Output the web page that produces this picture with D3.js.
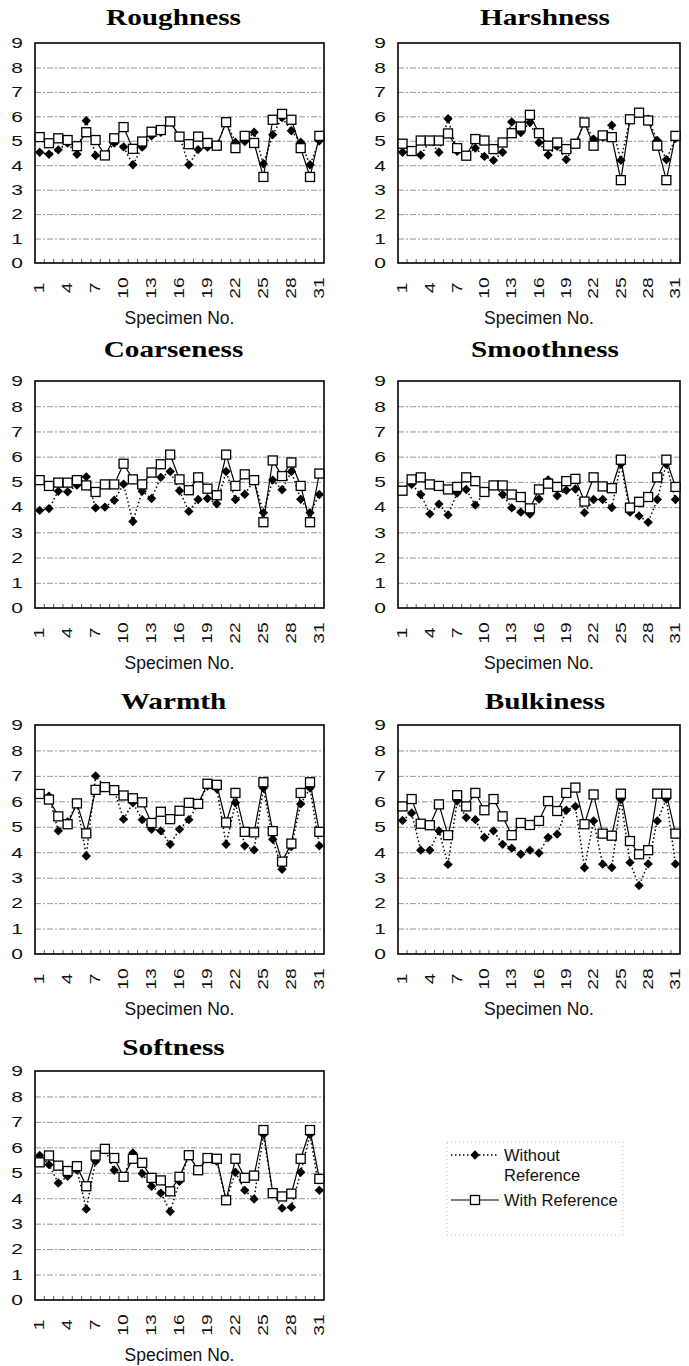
<!DOCTYPE html>
<html>
<head>
<meta charset="utf-8">
<script src="https://cdn.jsdelivr.net/npm/d3@7"></script>
<style>
  body { margin: 0; background: #fff; }
  svg { display: block; }
  .grid line { stroke: #8a8a8a; stroke-width: 0.9; stroke-dasharray: 6,2,2,2; }
  .grid path { display: none; }
  .title { font-family: "Liberation Serif", "Times New Roman", serif; font-weight: bold; }
  .lbl { font-family: "Liberation Sans", Arial, sans-serif; fill: #111; }
</style>
</head>
<body>
<div id="chart"></div>
<script>
// specimen numbers and tick labels
const specimens = d3.range(1, 32);
const xTickLabels = [1, 4, 7, 10, 13, 16, 19, 22, 25, 28, 31];
const yTickLabels = [0, 1, 2, 3, 4, 5, 6, 7, 8, 9];
const seriesNames = ['Without Reference', 'With Reference'];
const panelTitles = ['Roughness', 'Harshness', 'Coarseness', 'Smoothness', 'Warmth', 'Bulkiness', 'Softness'];

// values (without / with reference)
const roughWithout = [4.53,4.45,4.63,4.91,4.45,5.82,4.4,4.4,4.91,4.75,4.02,4.74,5.2,5.35,5.79,5.17,4.02,4.64,4.74,4.8,5.76,4.94,4.97,5.35,4.06,5.25,5.95,5.41,4.94,4.02,5.0];
const roughWith    = [5.15,4.9,5.1,5.03,4.78,5.35,5.03,4.4,5.1,5.56,4.67,4.97,5.37,5.44,5.79,5.17,4.86,5.17,4.91,4.8,5.76,4.7,5.2,4.91,3.52,5.86,6.1,5.86,4.7,3.52,5.2];
const harshWithout = [4.53,4.58,4.42,4.98,4.53,5.9,4.57,4.39,4.7,4.36,4.2,4.53,5.77,5.34,5.75,4.93,4.42,4.77,4.23,4.88,5.75,5.07,5.15,5.64,4.2,5.88,6.15,5.88,5.01,4.23,5.1];
const harshWith    = [4.88,4.58,5.01,5.01,5.01,5.3,4.7,4.39,5.07,5.01,4.66,4.93,5.31,5.58,6.06,5.31,4.8,4.93,4.66,4.88,5.75,4.8,5.22,5.15,3.39,5.88,6.15,5.83,4.8,3.39,5.2];
const coarseWithout = [3.87,3.94,4.63,4.61,4.87,5.2,3.97,4.0,4.27,4.91,3.43,4.63,4.34,5.18,5.41,4.65,3.83,4.3,4.34,4.13,5.41,4.3,4.51,5.07,3.78,5.07,4.69,5.41,4.31,3.78,4.5];
const coarseWith    = [5.07,4.84,4.97,4.97,5.07,4.86,4.6,4.9,4.9,5.72,5.1,4.9,5.37,5.7,6.08,5.1,4.67,5.18,4.73,4.47,6.08,4.84,5.3,5.07,3.4,5.85,5.23,5.77,4.84,3.4,5.33];
const smoothWithout = [4.65,4.9,4.5,3.73,4.12,3.69,4.56,4.7,4.08,4.6,4.86,4.5,3.97,3.8,3.72,4.32,5.08,4.45,4.67,4.72,3.78,4.3,4.3,3.98,5.71,3.8,3.65,3.4,4.3,5.71,4.3];
const smoothWith    = [4.65,5.1,5.18,4.9,4.84,4.7,4.8,5.18,5.03,4.6,4.86,4.86,4.5,4.4,3.95,4.7,4.93,4.8,5.03,5.12,4.22,5.18,4.82,4.75,5.88,3.98,4.21,4.4,5.18,5.88,4.8];
const warmWithout = [6.29,6.2,4.84,5.2,5.92,3.85,7.0,6.56,6.44,5.3,5.94,5.28,4.9,4.84,4.31,4.9,5.28,5.9,6.6,6.49,4.31,5.94,4.25,4.09,6.52,4.51,3.33,4.22,5.9,6.52,4.25];
const warmWith    = [6.29,6.07,5.41,5.1,5.92,4.74,6.45,6.56,6.44,6.23,6.12,5.96,5.15,5.59,5.3,5.63,5.94,5.9,6.69,6.65,5.17,6.33,4.8,4.78,6.75,4.83,3.63,4.34,6.33,6.75,4.8];
const bulkWithout = [5.25,5.54,4.08,4.08,4.84,3.52,6.01,5.36,5.28,4.58,4.84,4.31,4.16,3.92,4.08,3.97,4.58,4.71,5.65,5.8,3.39,5.23,3.53,3.4,6.07,3.6,2.69,3.54,5.23,6.09,3.54];
const bulkWith    = [5.8,6.09,5.12,5.06,5.88,4.67,6.24,5.8,6.33,5.65,6.09,5.41,4.67,5.15,5.07,5.23,6.01,5.62,6.33,6.54,5.1,6.27,4.73,4.65,6.3,4.44,3.92,4.08,6.3,6.3,4.73];
const softWithout = [5.68,5.32,4.6,4.86,5.12,3.57,5.45,5.94,5.1,4.84,5.78,4.97,4.47,4.2,3.48,4.66,5.69,5.1,5.58,5.45,3.92,5.02,4.31,3.97,6.5,4.2,3.61,3.65,5.02,6.5,4.31];
const softWith    = [5.41,5.68,5.28,5.07,5.26,4.47,5.68,5.94,5.58,4.84,5.55,5.39,4.8,4.7,4.27,4.84,5.69,5.1,5.58,5.55,3.92,5.55,4.8,4.89,6.68,4.2,4.07,4.18,5.55,6.68,4.76];

const withoutSets = [roughWithout, harshWithout, coarseWithout, smoothWithout, warmWithout, bulkWithout, softWithout];
const withSets = [roughWith, harshWith, coarseWith, smoothWith, warmWith, bulkWith, softWith];

// layout of the panel grid
const width = 689, height = 1366;
const rows = [
  {top: 43, bottom: 263, title: 25},
  {top: 381, bottom: 608, title: 357},
  {top: 725, bottom: 954, title: 709},
  {top: 1071, bottom: 1300, title: 1055}
];
const cols = [{left: 35, right: 324, shift: -6}, {left: 398, right: 680, shift: 6}];

const svg = d3.select('#chart').append('svg')
  .attr('width', width)
  .attr('height', height);

const diamond = d3.symbol().type(d3.symbolDiamond2 || d3.symbolDiamond).size(56);

panelTitles.forEach((title, p) => {
  const row = rows[Math.floor(p / 2)];
  const col = cols[p % 2];

  const x = d3.scalePoint().domain(specimens).range([col.left, col.right]).padding(0.5);
  const y = d3.scaleLinear().domain([0, 9]).range([row.bottom, row.top]);
  const g = svg.append('g');

  // horizontal gridlines
  g.append('g')
    .attr('class', 'grid')
    .attr('transform', `translate(${col.left},0)`)
    .call(d3.axisLeft(y).tickValues(d3.range(1, 9)).tickSize(-(col.right - col.left)).tickFormat(''));

  // inner ticks on the category axis, between categories
  const step = x.step();
  g.append('g').selectAll('line')
    .data(specimens.slice(1))
    .join('line')
    .attr('x1', d => x(d) - step / 2).attr('x2', d => x(d) - step / 2)
    .attr('y1', row.bottom).attr('y2', row.bottom - 4)
    .attr('stroke', '#333').attr('stroke-width', 0.8);

  // plot frame
  g.append('rect')
    .attr('x', col.left).attr('y', row.top)
    .attr('width', col.right - col.left).attr('height', row.bottom - row.top)
    .attr('fill', 'none').attr('stroke', '#000').attr('stroke-width', 1.6);

  // y labels
  g.append('g').selectAll('text')
    .data(yTickLabels)
    .join('text')
    .attr('class', 'lbl')
    .attr('transform', d => `translate(${col.left - 12},${y(d)}) scale(1.4,1)`)
    .attr('text-anchor', 'end')
    .attr('dominant-baseline', 'central')
    .style('font-size', '15px')
    .text(d => d);

  // rotated x labels
  g.append('g').selectAll('text')
    .data(xTickLabels)
    .join('text')
    .attr('class', 'lbl')
    .attr('transform', d => `translate(${x(d)},${row.bottom + 25}) rotate(-90) scale(1.33,1)`)
    .attr('text-anchor', 'middle')
    .attr('dominant-baseline', 'central')
    .style('font-size', '14.5px')
    .text(d => d);

  // axis title
  g.append('text')
    .attr('class', 'lbl')
    .attr('x', (col.left + col.right) / 2)
    .attr('y', row.bottom + 61)
    .attr('text-anchor', 'middle')
    .style('font-size', '17.5px')
    .text('Specimen No.');

  // panel title
  g.append('text')
    .attr('class', 'title')
    .attr('transform', `translate(${(col.left + col.right) / 2 + col.shift},${row.title}) scale(1.3,1)`)
    .attr('text-anchor', 'middle')
    .style('font-size', '22.5px')
    .text(title);

  const line = d3.line().x((d, i) => x(specimens[i])).y(d => y(d));

  // without reference: dotted line, black diamonds
  g.append('path')
    .datum(withoutSets[p])
    .attr('d', line)
    .attr('fill', 'none').attr('stroke', '#000')
    .attr('stroke-width', 1.5).attr('stroke-dasharray', '1.5,2.5');
  g.append('g').selectAll('path')
    .data(withoutSets[p])
    .join('path')
    .attr('d', diamond)
    .attr('transform', (d, i) => `translate(${x(specimens[i])},${y(d)})`)
    .attr('fill', '#000');

  // with reference: solid line, open squares
  g.append('path')
    .datum(withSets[p])
    .attr('d', line)
    .attr('fill', 'none').attr('stroke', '#000').attr('stroke-width', 1.2);
  g.append('g').selectAll('rect')
    .data(withSets[p])
    .join('rect')
    .attr('x', (d, i) => x(specimens[i]) - 4.5)
    .attr('y', d => y(d) - 4.5)
    .attr('width', 9).attr('height', 9)
    .attr('fill', '#fff').attr('stroke', '#000').attr('stroke-width', 1.3);
});

// legend
const lg = svg.append('g');
lg.append('rect')
  .attr('x', 447).attr('y', 1142).attr('width', 176).attr('height', 93)
  .attr('fill', 'none').attr('stroke', '#aaa').attr('stroke-width', 0.8)
  .attr('stroke-dasharray', '1,3');

lg.append('line')
  .attr('x1', 451).attr('x2', 497).attr('y1', 1155).attr('y2', 1155)
  .attr('stroke', '#000').attr('stroke-width', 1.5).attr('stroke-dasharray', '1.5,2.5');
lg.append('path')
  .attr('d', diamond)
  .attr('transform', 'translate(475,1155)')
  .attr('fill', '#000');
lg.append('text').attr('class', 'lbl')
  .attr('x', 504).attr('y', 1161).style('font-size', '16.5px')
  .text('Without');
lg.append('text').attr('class', 'lbl')
  .attr('x', 504).attr('y', 1181).style('font-size', '16.5px')
  .text('Reference');

lg.append('line')
  .attr('x1', 451).attr('x2', 499).attr('y1', 1200).attr('y2', 1200)
  .attr('stroke', '#000').attr('stroke-width', 1.2);
lg.append('rect')
  .attr('x', 470.5).attr('y', 1195.5).attr('width', 9).attr('height', 9)
  .attr('fill', '#fff').attr('stroke', '#000').attr('stroke-width', 1.3);
lg.append('text').attr('class', 'lbl')
  .attr('x', 504).attr('y', 1206).style('font-size', '16.5px')
  .text(seriesNames[1]);
</script>
</body>
</html>
